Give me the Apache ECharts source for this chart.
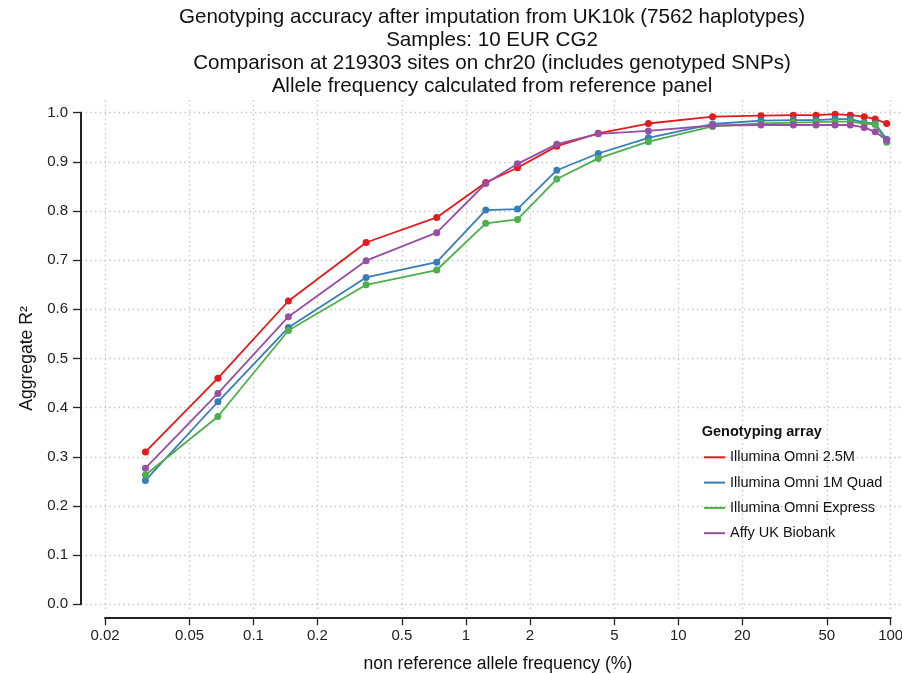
<!DOCTYPE html>
<html>
<head>
<meta charset="utf-8">
<script src="https://cdn.jsdelivr.net/npm/echarts@6/dist/echarts.min.js"></script>
<style>
    html, body {margin: 0; padding: 0; background: #fff;}
    #chart {width: 902px; height: 674px;}
</style>
</head>
<body>
<div id="chart"></div>
<script>
// non reference allele frequency (%) of each bin
const freq = [0.031, 0.068, 0.146, 0.339, 0.729, 1.24, 1.75, 2.68, 4.2, 7.23, 14.5, 24.5, 34.8, 44.5, 54.7, 64.5, 75, 84.5, 95.7]
const omni25 = [0.310, 0.460, 0.617, 0.736, 0.787, 0.858, 0.888, 0.932, 0.958, 0.978, 0.992, 0.994, 0.995, 0.995, 0.997, 0.995, 0.992, 0.987, 0.978]
const omni1m = [0.252, 0.412, 0.563, 0.665, 0.696, 0.802, 0.804, 0.883, 0.917, 0.949, 0.977, 0.984, 0.985, 0.985, 0.987, 0.987, 0.980, 0.978, 0.946]
const omniExpress = [0.263, 0.382, 0.557, 0.650, 0.680, 0.775, 0.783, 0.865, 0.907, 0.941, 0.972, 0.978, 0.980, 0.981, 0.982, 0.982, 0.978, 0.976, 0.940]
const affy = [0.277, 0.429, 0.585, 0.699, 0.756, 0.856, 0.896, 0.936, 0.957, 0.963, 0.974, 0.975, 0.975, 0.975, 0.975, 0.975, 0.970, 0.961, 0.944]

const seriesNames = ['Illumina Omni 2.5M', 'Illumina Omni 1M Quad', 'Illumina Omni Express', 'Affy UK Biobank']
const seriesValues = [omni25, omni1m, omniExpress, affy]
const colors = ['#e41a1c', '#377eb8', '#4daf4a', '#984ea3']

const xTicks = [0.02, 0.05, 0.1, 0.2, 0.5, 1, 2, 5, 10, 20, 50, 100]
const yTicks = [0, 0.1, 0.2, 0.3, 0.4, 0.5, 0.6, 0.7, 0.8, 0.9, 1.0]

const titleLines = [
    'Genotyping accuracy after imputation from UK10k (7562 haplotypes)',
    'Samples: 10 EUR CG2',
    'Comparison at 219303 sites on chr20 (includes genotyped SNPs)',
    'Allele frequency calculated from reference panel'
]

const FONT = '"Liberation Sans", Arial, Helvetica, sans-serif'

const chart = echarts.init(document.getElementById('chart'))

// the dotted panel is a bit wider than the axis lines (R style), so it gets its own grid
const gridLine = {
    show: true,
    lineStyle: {color: '#c6c6c6', width: 1.3, type: [1.5, 3.2]}
}

chart.setOption({
    animation: false,
    backgroundColor: '#fff',
    textStyle: {fontFamily: FONT},
    graphic: [
        {
            type: 'text', x: 492, y: 6, silent: true,
            style: {
                text: titleLines.join('\n'), fill: '#111',
                font: '20.6px ' + FONT, lineHeight: 23,
                align: 'center', verticalAlign: 'top'
            }
        },
        {
            type: 'text', x: 701.7, y: 432.3, silent: true,
            style: {
                text: 'Genotyping array', fill: '#111',
                font: 'bold 14.5px ' + FONT,
                align: 'left', verticalAlign: 'middle'
            }
        }
    ],
    grid: [
        {left: 81, right: 0, top: 100, bottom: 62, outerBoundsMode: 'none', containLabel: false},
        {left: 105, right: 11.3, top: 112.7, bottom: 69.7, outerBoundsMode: 'none', containLabel: false}
    ],
    legend: {
        data: seriesNames,
        orient: 'vertical',
        left: 704,
        top: 449.3,
        padding: 0,
        itemGap: 9.3,
        itemWidth: 21,
        itemHeight: 2,
        icon: 'rect',
        selectedMode: false,
        textStyle: {fontSize: 14.5, lineHeight: 16, color: '#111', fontFamily: FONT}
    },
    xAxis: [
        {
            gridIndex: 0, type: 'log', min: 0.01542, max: 113,
            axisLine: {show: false},
            axisTick: {show: false, customValues: xTicks},
            axisLabel: {show: false},
            splitLine: gridLine
        },
        {
            gridIndex: 1, type: 'log', min: 0.02, max: 100,
            offset: 13,
            name: 'non reference allele frequency (%)',
            nameLocation: 'middle',
            nameGap: 37.5,
            nameTextStyle: {fontSize: 17.6, color: '#111'},
            axisLine: {show: true, onZero: false, lineStyle: {color: '#222', width: 2}},
            axisTick: {show: true, length: 8, customValues: xTicks, lineStyle: {color: '#222', width: 1.3}},
            axisLabel: {
                customValues: xTicks, margin: 11, fontSize: 15, color: '#222',
                formatter: function (v) { return String(+v.toPrecision(3)) }
            },
            splitLine: {show: false}
        }
    ],
    yAxis: [
        {
            gridIndex: 0, type: 'value', min: -0.0157, max: 1.0258,
            axisLine: {show: false},
            axisTick: {show: false, customValues: yTicks},
            axisLabel: {show: false},
            splitLine: gridLine
        },
        {
            gridIndex: 1, type: 'value', min: 0, max: 1,
            offset: 24,
            name: 'Aggregate R²',
            nameLocation: 'middle',
            nameGap: 41,
            nameTextStyle: {fontSize: 17.6, color: '#111'},
            axisLine: {show: true, onZero: false, lineStyle: {color: '#222', width: 2}},
            axisTick: {show: true, length: 8, customValues: yTicks, lineStyle: {color: '#222', width: 1.3}},
            axisLabel: {
                customValues: yTicks, margin: 13, fontSize: 15, color: '#222',
                formatter: function (v) { return v.toFixed(1) }
            },
            splitLine: {show: false}
        }
    ],
    series: seriesNames.map(function (name, i) {
        return {
            name: name,
            type: 'line',
            xAxisIndex: 1,
            yAxisIndex: 1,
            data: freq.map(function (f, j) { return [f, seriesValues[i][j]] }),
            symbol: 'circle',
            symbolSize: 7,
            clip: false,
            color: colors[i],
            lineStyle: {width: 1.8, color: colors[i]},
            itemStyle: {color: colors[i]},
            emphasis: {disabled: true}
        }
    })
})
</script>
</body>
</html>
